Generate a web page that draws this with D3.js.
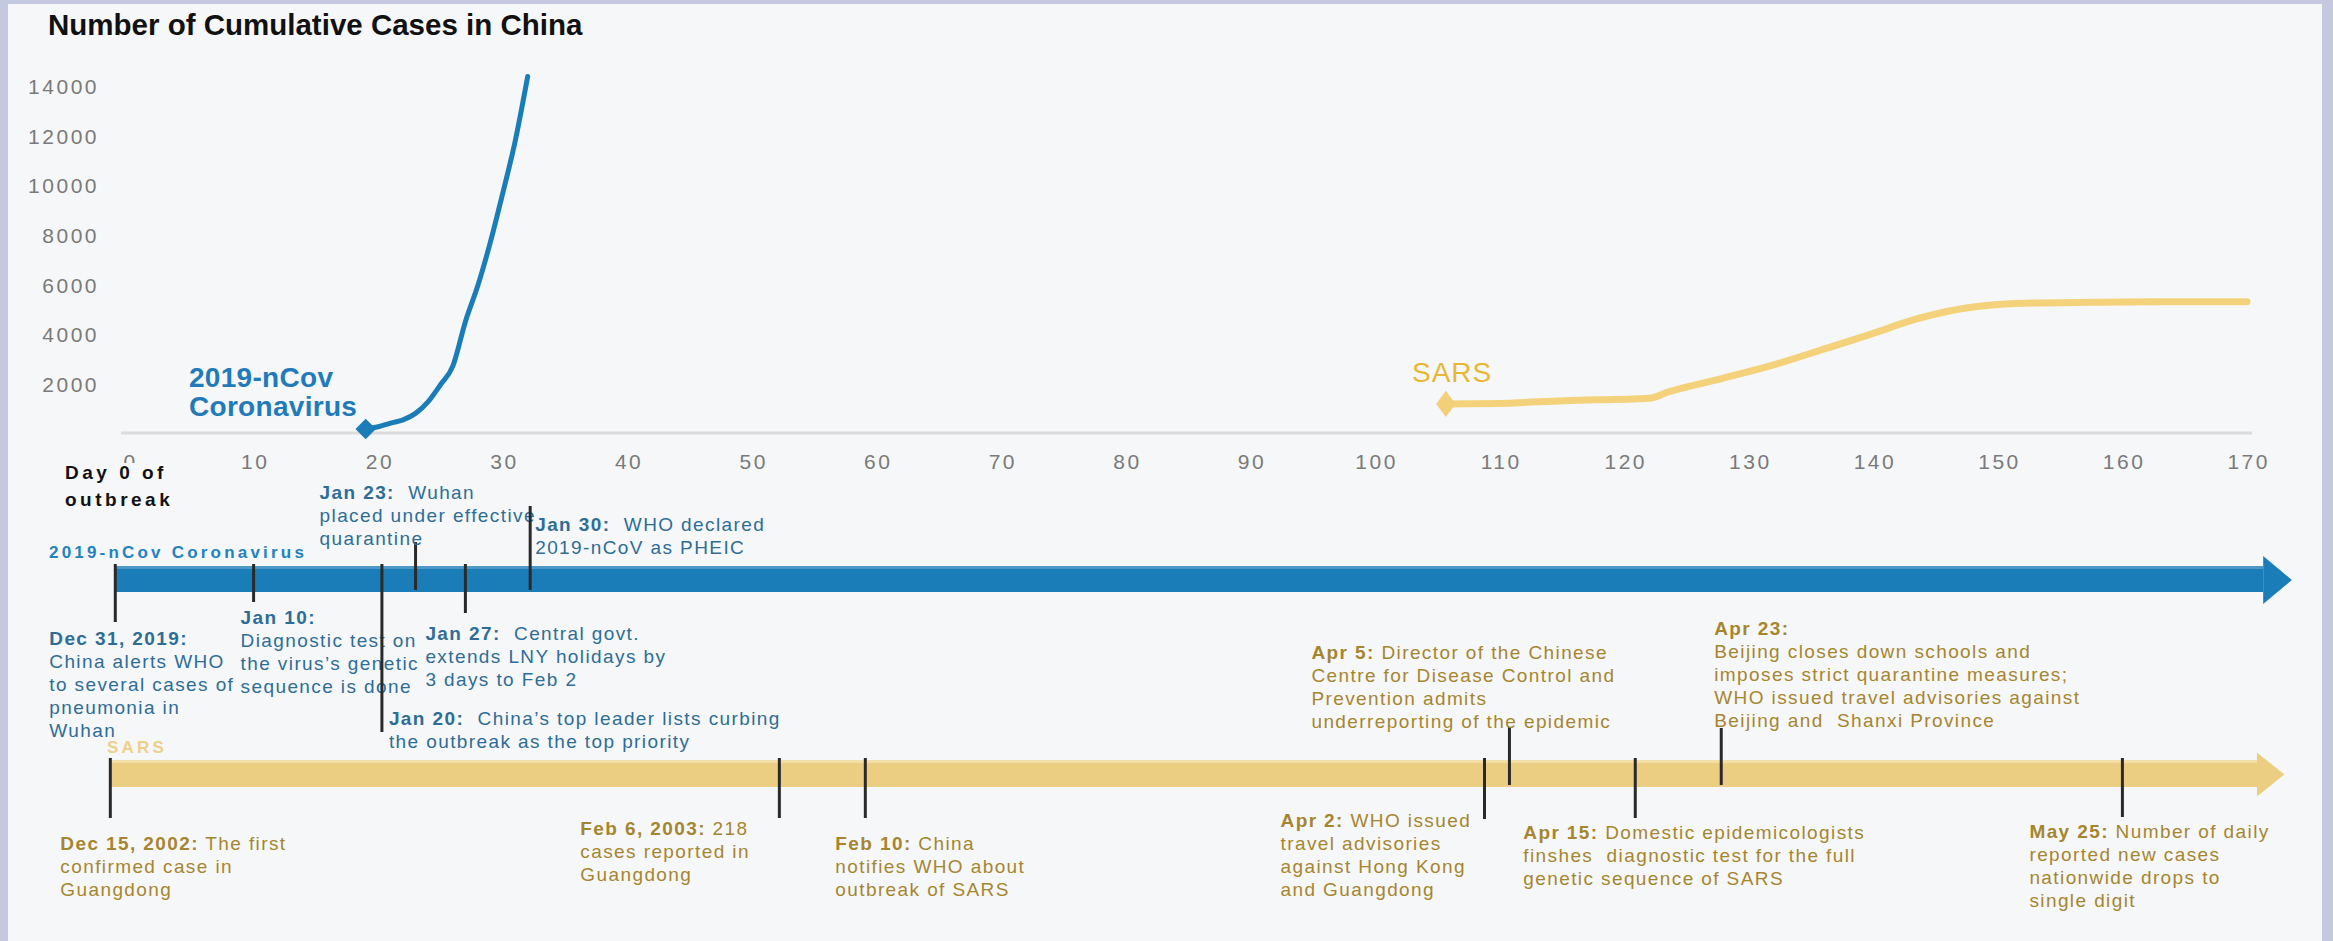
<!DOCTYPE html>
<html>
<head>
<meta charset="utf-8">
<script src="https://cdn.jsdelivr.net/npm/d3@7"></script>
<style>
  body { margin: 0; background: #c5c9df; }
  text { font-family: 'Liberation Sans', Arial, sans-serif; white-space: pre; }
</style>
</head>
<body>
<svg id="chart" width="2333" height="941"></svg>
<script>
(function () {
  'use strict';

  // Cumulative cases, day counted from the start of each outbreak
  const ncovDays = [19, 20, 21, 22, 23, 24, 25, 26, 27, 28, 29, 30, 31, 32];
  const ncovCases = [200, 290, 440, 570, 830, 1290, 1980, 2740, 4520, 5970, 7710, 9690, 11790, 14380];

  const sarsDays = [105.7, 109.9, 115.2, 122, 123.6, 127.9, 132, 135.8, 140, 143.2, 145.8, 149.5, 152.2, 157.5, 162.8, 170];
  const sarsCases = [1210, 1230, 1340, 1440, 1700, 2240, 2780, 3380, 4050, 4590, 4920, 5190, 5260, 5300, 5320, 5325];

  const xTicks = [0, 10, 20, 30, 40, 50, 60, 70, 80, 90, 100, 110, 120, 130, 140, 150, 160, 170];
  const yTicks = [2000, 4000, 6000, 8000, 10000, 12000, 14000];

  // Timeline events (position on the day axis as drawn)
  const ncovEventDays = [-1.1, 10, 20.3, 23, 27, 32.2];
  const ncovEventDates = ['Dec 31, 2019:', 'Jan 10:', 'Jan 20:', 'Jan 23:', 'Jan 27:', 'Jan 30:'];
  const ncovEventText = [
    ['', 'China alerts WHO', 'to several cases of', 'pneumonia in', 'Wuhan'],
    ['', 'Diagnostic test on', 'the virus\u2019s genetic', 'sequence is done'],
    ['  China\u2019s top leader lists curbing', 'the outbreak as the top priority'],
    ['  Wuhan', 'placed under effective', 'quarantine'],
    ['  Central govt.', 'extends LNY holidays by', '3 days to Feb 2'],
    ['  WHO declared', '2019-nCoV as PHEIC']
  ];

  const sarsEventDays = [-1.5, 52.2, 59.1, 108.8, 110.8, 120.9, 127.8, 160];
  const sarsEventDates = ['Dec 15, 2002:', 'Feb 6, 2003:', 'Feb 10:', 'Apr 2:', 'Apr 5:', 'Apr 15:', 'Apr 23:', 'May 25:'];
  const sarsEventText = [
    [' The first', 'confirmed case in', 'Guangdong'],
    [' 218', 'cases reported in', 'Guangdong'],
    [' China', 'notifies WHO about', 'outbreak of SARS'],
    [' WHO issued', 'travel advisories', 'against Hong Kong', 'and Guangdong'],
    [' Director of the Chinese', 'Centre for Disease Control and', 'Prevention admits', 'underreporting of the epidemic'],
    [' Domestic epidemicologists', 'finshes  diagnostic test for the full', 'genetic sequence of SARS'],
    ['', 'Beijing closes down schools and', 'imposes strict quarantine measures;', 'WHO issued travel advisories against', 'Beijing and  Shanxi Province'],
    [' Number of daily', 'reported new cases', 'nationwide drops to', 'single digit']
  ];

  // Label placement for the timelines (tick direction/length, text offset)
  const ncovLayout = [
    { up: false, len: 30, dx: -66, y: 638 },
    { up: false, len: 10, dx: -13, y: 617 },
    { up: false, len: 140, dx: 7, y: 718 },
    { up: true, len: 26, dx: -96, y: 492 },
    { up: false, len: 21, dx: -40, y: 633 },
    { up: true, len: 62, dx: 5, y: 524 }
  ];
  const sarsLayout = [
    { up: false, len: 31, dx: -50, y: 843 },
    { up: false, len: 31, dx: -199, y: 828 },
    { up: false, len: 31, dx: -30, y: 843 },
    { up: false, len: 32, dx: -204, y: 820 },
    { up: true, len: 35, dx: -198, y: 652 },
    { up: false, len: 31, dx: -112, y: 832 },
    { up: true, len: 34, dx: -7, y: 628 },
    { up: false, len: 30, dx: -93, y: 831 }
  ];

  const blue = '#1b7db7';
  const blueText = '#2e6d96';
  const goldBar = '#ecce82';
  const goldText = '#a5862f';
  const panel = '#f6f7f9';

  const svg = d3.select('#chart');

  // Background panel
  svg.append('rect').attr('width', 2333).attr('height', 941).attr('fill', '#c5c9df');
  svg.append('rect').attr('x', 8).attr('y', 4).attr('width', 2314).attr('height', 940)
    .attr('fill', panel);

  const x = d3.scaleLinear().domain([0, 170]).range([129, 2247]);
  const y = d3.scaleLinear().domain([0, 14000]).range([434, 86]);

  // Title
  svg.append('text')
    .attr('x', 48).attr('y', 35)
    .attr('font-size', 29.5).attr('font-weight', 'bold').attr('fill', '#111')
    .text('Number of Cumulative Cases in China');

  // Y axis labels
  const yAxis = svg.append('g')
    .attr('transform', 'translate(99,0)')
    .call(d3.axisLeft(y).tickValues(yTicks).tickSize(0).tickFormat(d3.format('d')));
  yAxis.select('.domain').remove();
  yAxis.selectAll('text')
    .attr('x', 0).attr('dy', '0.35em')
    .attr('font-size', 21).attr('letter-spacing', 2.5)
    .attr('fill', '#7a7a7a')
    .style('font-family', "'Liberation Sans', Arial, sans-serif");

  // X axis
  svg.append('line')
    .attr('x1', x(0) - 8).attr('x2', x(170) + 5)
    .attr('y1', 433).attr('y2', 433)
    .attr('stroke', '#dcdcdc').attr('stroke-width', 3);

  const xAxis = svg.append('g')
    .attr('transform', 'translate(0,433)')
    .call(d3.axisBottom(x).tickValues(xTicks).tickSize(0));
  xAxis.select('.domain').remove();
  xAxis.selectAll('text')
    .attr('y', 29).attr('dy', '0.35em').attr('dx', 1.2)
    .attr('font-size', 21).attr('letter-spacing', 2.5)
    .attr('fill', '#7a7a7a')
    .style('font-family', "'Liberation Sans', Arial, sans-serif");

  // Day 0 label sits on its own box, partly covering the 0 tick
  svg.append('rect')
    .attr('x', 62).attr('y', 463).attr('width', 112).attr('height', 48)
    .attr('fill', panel);
  const dayLabel = svg.append('text')
    .attr('x', 65).attr('font-size', 19).attr('font-weight', 'bold')
    .attr('letter-spacing', 3.5).attr('fill', '#111');
  dayLabel.append('tspan').attr('x', 65).attr('y', 472).attr('dy', '0.35em').text('Day 0 of');
  dayLabel.append('tspan').attr('x', 65).attr('y', 499).attr('dy', '0.35em').text('outbreak');

  // Curves
  const line = d3.line()
    .x(d => x(d[0]))
    .y(d => y(d[1]))
    .curve(d3.curveMonotoneX);

  const sarsPoints = d3.zip(sarsDays, sarsCases);
  svg.append('path')
    .datum(sarsPoints)
    .attr('d', line)
    .attr('fill', 'none')
    .attr('stroke', '#f4d27c')
    .attr('stroke-width', 7)
    .attr('stroke-linecap', 'round');
  svg.append('path')
    .attr('d', d3.symbol(d3.symbolSquare, 260)())
    .attr('transform', 'translate(' + x(sarsDays[0]) + ',' + y(sarsCases[0]) + ') scale(0.85,1.15) rotate(45)')
    .attr('fill', '#f2cf78');

  const ncovPoints = d3.zip(ncovDays, ncovCases);
  svg.append('path')
    .datum(ncovPoints)
    .attr('d', line)
    .attr('fill', 'none')
    .attr('stroke', blue)
    .attr('stroke-width', 5)
    .attr('stroke-linecap', 'round');
  svg.append('path')
    .attr('d', d3.symbol(d3.symbolSquare, 210)())
    .attr('transform', 'translate(' + x(ncovDays[0]) + ',' + y(ncovCases[0]) + ') rotate(45)')
    .attr('fill', blue);

  // Curve labels
  const ncovLabel = svg.append('text')
    .attr('font-size', 28).attr('font-weight', 'bold').attr('fill', '#1f7bba')
    .attr('letter-spacing', 0.3);
  ncovLabel.append('tspan').attr('x', 189).attr('y', 377).attr('dy', '0.35em').text('2019-nCov');
  ncovLabel.append('tspan').attr('x', 189).attr('y', 406).attr('dy', '0.35em').text('Coronavirus');

  svg.append('text')
    .attr('x', 1412).attr('y', 372).attr('dy', '0.35em')
    .attr('font-size', 28).attr('letter-spacing', 1).attr('fill', '#e7b735')
    .text('SARS');

  // Timelines
  function timeline(opts) {
    const g = svg.append('g');
    const x0 = x(opts.days[0]);
    const xEnd = x(opts.arrowBase);
    const xTip = x(opts.arrowTip);
    const mid = (opts.top + opts.bottom) / 2;

    g.append('rect')
      .attr('x', x0).attr('y', opts.top)
      .attr('width', xEnd - x0).attr('height', opts.bottom - opts.top)
      .attr('fill', opts.color);
    g.append('rect')
      .attr('x', x0).attr('y', opts.top - 2)
      .attr('width', xEnd - x0).attr('height', 3)
      .attr('fill', opts.edge);
    g.append('path')
      .attr('d', 'M' + xEnd + ',' + (mid - opts.head) + 'L' + xTip + ',' + mid + 'L' + xEnd + ',' + (mid + opts.head) + 'Z')
      .attr('fill', opts.color);

    g.append('text')
      .attr('x', opts.titleX).attr('y', opts.titleY).attr('dy', '0.35em')
      .attr('font-size', 17).attr('font-weight', 'bold')
      .attr('letter-spacing', 3.2).attr('fill', opts.titleColor)
      .text(opts.title);

    opts.days.forEach(function (day, i) {
      const lay = opts.layout[i];
      const tx = x(day);
      const y1 = lay.up ? opts.top - lay.len : opts.top - 4;
      const y2 = lay.up ? opts.bottom - 2 : opts.bottom + lay.len;
      g.append('line')
        .attr('x1', tx).attr('x2', tx).attr('y1', y1).attr('y2', y2)
        .attr('stroke', '#2a2a2a').attr('stroke-width', 3);

      const label = g.append('text')
        .attr('font-size', 19).attr('letter-spacing', 1.4)
        .attr('fill', opts.textColor);
      const lx = tx + lay.dx;
      opts.text[i].forEach(function (str, j) {
        const t = label.append('tspan')
          .attr('x', lx).attr('y', lay.y + j * 23).attr('dy', '0.35em');
        if (j === 0) {
          t.append('tspan').attr('font-weight', 'bold').text(opts.dates[i]);
          t.append('tspan').text(str);
        } else {
          t.text(str);
        }
      });
    });
  }

  timeline({
    days: ncovEventDays, dates: ncovEventDates, text: ncovEventText, layout: ncovLayout,
    top: 568, bottom: 592, head: 24, arrowBase: 171.3, arrowTip: 173.6,
    color: blue, edge: '#4d98c6', textColor: blueText,
    title: '2019-nCov Coronavirus', titleX: 49, titleY: 552, titleColor: '#2283c0'
  });

  timeline({
    days: sarsEventDays, dates: sarsEventDates, text: sarsEventText, layout: sarsLayout,
    top: 762, bottom: 787, head: 22, arrowBase: 170.8, arrowTip: 173,
    color: goldBar, edge: '#f4dfa6', textColor: goldText,
    title: 'SARS', titleX: 107, titleY: 747, titleColor: '#edd08a'
  });
}());
</script>
</body>
</html>
